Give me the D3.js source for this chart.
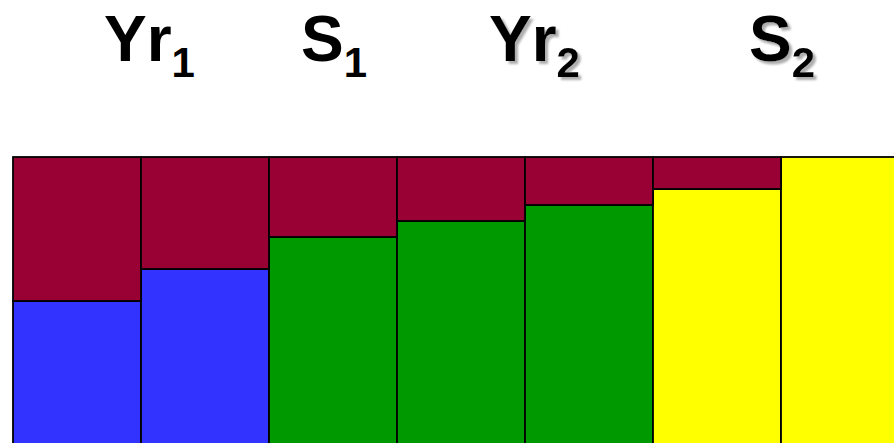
<!DOCTYPE html>
<html>
<head>
<meta charset="utf-8">
<script src="https://cdn.jsdelivr.net/npm/d3@7"></script>
<style>
  html, body { margin: 0; padding: 0; background: #fff; }
  svg { display: block; }
</style>
</head>
<body>
<svg id="chart" width="894" height="443"></svg>
<script>
// ---- data ----
const categories = ["c1", "c2", "c3", "c4", "c5", "c6", "c7"];
const lowerValues = [9, 11, 13, 14, 15, 16, 18];
const upperValues = [9, 7, 5, 4, 3, 2, 0];
const lowerGroup = ["Yr1", "Yr1", "S1", "S1", "S1", "S2", "S2"];
const titleMain = ["Yr", "S", "Yr", "S"];
const titleSub = ["1", "1", "2", "2"];
const titleShadow = [false, false, true, true];

// ---- styles ----
const groupColor = { Yr1: "#3333ff", S1: "#009900", S2: "#ffff00" };
const upperColor = "#990033";

const svg = d3.select("#chart");
const defs = svg.append("defs");
defs.append("filter").attr("id", "shadow")
  .attr("x", "-10%").attr("y", "-10%").attr("width", "130%").attr("height", "130%")
  .append("feDropShadow")
  .attr("dx", 3).attr("dy", 3).attr("stdDeviation", 0.8)
  .attr("flood-color", "#999").attr("flood-opacity", 0.8);

const x = d3.scaleBand().domain(categories).range([13, 909]).padding(0);
const y = d3.scaleLinear().domain([0, 18]).range([445, 157]);

const g = svg.append("g");
// lower segments
g.selectAll("rect.lower").data(categories).join("rect")
  .attr("class", "lower")
  .attr("x", d => x(d))
  .attr("width", x.bandwidth())
  .attr("y", (d, i) => y(lowerValues[i]))
  .attr("height", (d, i) => y(0) - y(lowerValues[i]))
  .attr("fill", (d, i) => groupColor[lowerGroup[i]])
  .attr("stroke", "#000").attr("stroke-width", 1.8);
// upper segments
g.selectAll("rect.upper").data(categories).join("rect")
  .attr("class", "upper")
  .attr("x", d => x(d))
  .attr("width", x.bandwidth())
  .attr("y", (d, i) => y(lowerValues[i] + upperValues[i]))
  .attr("height", (d, i) => y(lowerValues[i]) - y(lowerValues[i] + upperValues[i]))
  .attr("fill", upperColor)
  .attr("stroke", "#000").attr("stroke-width", 1.8)
  .attr("display", (d, i) => upperValues[i] > 0 ? null : "none");

// titles
const titleX = [104, 301, 489, 749];
const tg = svg.append("g");
titleMain.forEach((m, i) => {
  const t = tg.append("text")
    .attr("x", titleX[i]).attr("y", 61)
    .attr("font-family", "Liberation Sans, Arial, Helvetica, sans-serif")
    .attr("font-weight", "bold")
    .attr("font-size", 64)
    .attr("fill", "#000")
    .attr("filter", titleShadow[i] ? "url(#shadow)" : null);
  t.append("tspan").text(m);
  t.append("tspan").attr("font-size", 42).attr("dy", 16).text(titleSub[i]);
});
</script>
</body>
</html>
